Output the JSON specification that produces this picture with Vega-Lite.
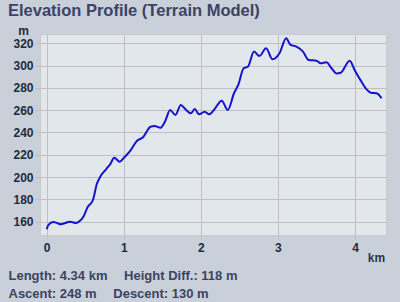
{
  "$schema": "https://vega.github.io/schema/vega-lite/v6.json",
  "autosize": "none",
  "width": 346,
  "height": 201,
  "padding": {"left": 40, "top": 34, "right": 14, "bottom": 67},
  "background": "#c9d0da",
  "config": {
    "view": {"fill": "#e1e7ea", "stroke": "#c9c9cf", "strokeWidth": 1},
    "font": "Liberation Sans"
  },
  "title": {
    "text": "Elevation Profile (Terrain Model)",
    "anchor": "start",
    "frame": "group",
    "dx": -32,
    "dy": 10,
    "offset": 2,
    "fontSize": 16.5,
    "fontWeight": "bold",
    "color": "#3b4266",
    "font": "Liberation Sans",
    "baseline": "alphabetic"
  },
  "data": {
    "values": [
      {"km": 0.0, "m": 153.2}, {"km": 0.02, "m": 157}, {"km": 0.086, "m": 159.7}, {"km": 0.13, "m": 159},
      {"km": 0.18, "m": 157.7}, {"km": 0.24, "m": 158.8}, {"km": 0.295, "m": 160}, {"km": 0.325, "m": 159.7},
      {"km": 0.38, "m": 158.8}, {"km": 0.41, "m": 159.7}, {"km": 0.48, "m": 165}, {"km": 0.53, "m": 173},
      {"km": 0.6, "m": 179.5}, {"km": 0.65, "m": 193.8}, {"km": 0.695, "m": 200.4}, {"km": 0.77, "m": 207},
      {"km": 0.825, "m": 211.7}, {"km": 0.877, "m": 217.4}, {"km": 0.947, "m": 213.8}, {"km": 1.008, "m": 217.8},
      {"km": 1.086, "m": 223.7}, {"km": 1.17, "m": 232.4}, {"km": 1.25, "m": 235.7}, {"km": 1.347, "m": 245.2},
      {"km": 1.4, "m": 245.8}, {"km": 1.477, "m": 244.3}, {"km": 1.54, "m": 250.6}, {"km": 1.6, "m": 260.2},
      {"km": 1.67, "m": 255.7}, {"km": 1.74, "m": 264.7}, {"km": 1.8, "m": 260.8}, {"km": 1.87, "m": 257.2},
      {"km": 1.92, "m": 261}, {"km": 1.977, "m": 256.3}, {"km": 2.05, "m": 258.7}, {"km": 2.107, "m": 256.3},
      {"km": 2.17, "m": 260.2}, {"km": 2.27, "m": 268.5}, {"km": 2.35, "m": 260.2}, {"km": 2.43, "m": 275.2},
      {"km": 2.485, "m": 282.6}, {"km": 2.555, "m": 297.6}, {"km": 2.61, "m": 299}, {"km": 2.69, "m": 312.5},
      {"km": 2.76, "m": 308.6}, {"km": 2.846, "m": 315.5}, {"km": 2.93, "m": 305.6}, {"km": 3.02, "m": 311},
      {"km": 3.107, "m": 324.5}, {"km": 3.163, "m": 318.5}, {"km": 3.24, "m": 317}, {"km": 3.325, "m": 312.5},
      {"km": 3.4, "m": 305}, {"km": 3.5, "m": 304.4}, {"km": 3.555, "m": 302}, {"km": 3.63, "m": 303},
      {"km": 3.695, "m": 297.6}, {"km": 3.76, "m": 293}, {"km": 3.815, "m": 293.6}, {"km": 3.93, "m": 304.4},
      {"km": 4.0, "m": 295.4}, {"km": 4.075, "m": 286.5}, {"km": 4.15, "m": 278.7}, {"km": 4.206, "m": 275.7},
      {"km": 4.28, "m": 275.2}, {"km": 4.345, "m": 270.7}
    ]
  },
  "resolve": {"axis": {"x": "independent"}},
  "layer": [
    {
      "mark": {"type": "line", "color": "#1414cc", "strokeWidth": 2, "interpolate": "monotone"},
      "encoding": {
        "x": {
          "field": "km", "type": "quantitative",
          "scale": {"domain": [-0.087, 4.402], "nice": false, "zero": false},
          "axis": {
            "orient": "bottom",
            "values": [0, 1, 2, 3, 4],
            "grid": true, "gridColor": "#c3bdc2", "gridOpacity": 1,
            "domain": false,
            "ticks": true, "tickColor": "#c3bdc2", "tickSize": 4,
            "labelFontSize": 12, "labelFontWeight": "bold", "labelColor": "#1f2a3c", "labelPadding": 3,
            "labelOverlap": false,
            "title": "km", "titleAngle": 0, "titleX": 336, "titleY": 22,
            "titleAlign": "center", "titleBaseline": "middle",
            "titleFontSize": 12, "titleFontWeight": "bold", "titleColor": "#2a3550"
          }
        },
        "y": {
          "field": "m", "type": "quantitative",
          "scale": {"domain": [148.1, 328.3], "nice": false, "zero": false},
          "axis": {
            "values": [160, 180, 200, 220, 240, 260, 280, 300, 320],
            "grid": true, "gridColor": "#c3bdc2", "gridOpacity": 1,
            "domain": false,
            "ticks": true, "tickColor": "#c3bdc2", "tickSize": 5,
            "labelFontSize": 12, "labelFontWeight": "bold", "labelColor": "#1f2a3c", "labelPadding": 2,
            "labelOverlap": false,
            "title": "m", "titleAngle": 0, "titleX": -17, "titleY": -4,
            "titleAlign": "center", "titleBaseline": "middle",
            "titleFontSize": 12, "titleFontWeight": "bold", "titleColor": "#1f2a3c"
          }
        }
      }
    },
    {
      "mark": {"type": "rule", "strokeOpacity": 0},
      "encoding": {
        "x": {
          "field": "km", "type": "quantitative",
          "axis": {
            "orient": "bottom",
            "grid": false, "domain": false, "ticks": false, "labels": false,
            "title": ["Length: 4.34 km\u2003 Height Diff.: 118 m", "Ascent: 248 m\u2003 Descent: 130 m"],
            "titleAngle": 0, "titleX": -32, "titleY": 44,
            "titleAlign": "left", "titleBaseline": "alphabetic", "titleLineHeight": 18,
            "titleFontSize": 13, "titleFontWeight": "bold", "titleColor": "#3a4462"
          }
        }
      }
    }
  ]
}
